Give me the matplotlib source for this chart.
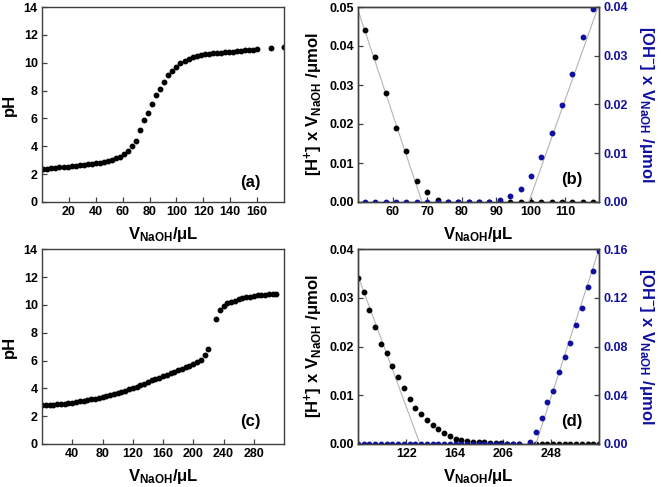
import matplotlib
matplotlib.use("Agg")
import matplotlib.pyplot as plt
from matplotlib.ticker import FormatStrFormatter

plt.rcParams["font.family"] = ["Liberation Sans", "DejaVu Sans"]
plt.rcParams["font.weight"] = "bold"
plt.rcParams["mathtext.fontset"] = "custom"
plt.rcParams["mathtext.rm"] = "Liberation Sans:bold"
plt.rcParams["mathtext.bf"] = "Liberation Sans:bold"
plt.rcParams["mathtext.it"] = "Liberation Sans:bold"

# ---- panel (a): pH vs volume, titration 1 ----
vol_a = [1, 4, 7, 10, 13, 16, 19, 22, 25, 28, 31, 34, 37, 40, 43, 46, 49, 52,
         55, 58, 61, 64, 67, 70, 73, 76, 79, 82, 85, 88, 91, 94, 97, 100, 103,
         106, 109, 112, 115, 118, 121, 124, 127, 130, 133, 136, 139, 142, 145,
         148, 151, 154, 157, 160, 170, 180]
ph_a = [2.39, 2.40, 2.45, 2.47, 2.50, 2.52, 2.54, 2.59, 2.61, 2.64, 2.66, 2.73,
        2.73, 2.78, 2.83, 2.90, 2.95, 3.02, 3.14, 3.26, 3.48, 3.67, 4.03, 4.41,
        5.18, 5.88, 6.40, 7.05, 7.67, 8.13, 8.61, 9.12, 9.43, 9.72, 9.96, 10.12,
        10.27, 10.39, 10.48, 10.55, 10.60, 10.65, 10.67, 10.70, 10.72, 10.74,
        10.77, 10.79, 10.84, 10.86, 10.89, 10.91, 10.93, 10.96, 11.08, 11.13]

# ---- panel (b): Gran functions, titration 1 ----
vol_b = [52, 55, 58, 61, 64, 67, 70, 73, 76, 79, 82, 85, 88, 91, 94, 97, 100,
         103, 106, 109, 112, 115, 118]
h_b = [0.0442, 0.0371, 0.0279, 0.0189, 0.0130, 0.0055, 0.0026, 0.0005, 0, 0,
       0, 0, 0, 0, 0, 0, 0, 0, 0, 0, 0, 0, 0]
oh_b = [0, 0, 0, 0, 0, 0, 0, 0, 0, 0, 0, 0, 0, 0.00034, 0.00123, 0.00274,
        0.0054, 0.0092, 0.0142, 0.0198, 0.0262, 0.0338, 0.0395]
fit_h_b_x = [50, 68.5]
fit_h_b_y = [0.0492, 0]
fit_oh_b_x = [99.4, 119.7]
fit_oh_b_y = [0, 0.0405]

# ---- panel (c): pH vs volume, titration 2 ----
vol_c = [0, 5, 10, 15, 20, 25, 30, 35, 40, 45, 50, 55, 60, 65, 70, 75, 80, 85,
         90, 95, 100, 105, 110, 115, 120, 125, 130, 135, 140, 145, 150, 155,
         160, 165, 170, 175, 180, 185, 190, 195, 200, 205, 210, 215, 220,
         230, 235, 240, 245, 250, 255, 260, 265, 270, 275, 280, 285, 290, 295,
         300, 305, 310]
ph_c = [2.78, 2.80, 2.82, 2.84, 2.86, 2.88, 2.91, 2.94, 2.98, 3.02, 3.06, 3.10,
        3.15, 3.20, 3.25, 3.30, 3.36, 3.43, 3.50, 3.58, 3.66, 3.74, 3.83, 3.93,
        4.03, 4.13, 4.24, 4.35, 4.46, 4.57, 4.68, 4.78, 4.88, 4.98, 5.08, 5.20,
        5.32, 5.42, 5.52, 5.62, 5.73, 5.87, 6.05, 6.38, 6.84,
        9.00, 9.62, 9.95, 10.12, 10.22, 10.31, 10.40, 10.47, 10.54, 10.60,
        10.65, 10.69, 10.72, 10.74, 10.77, 10.79, 10.80]

# ---- panel (d): Gran functions, titration 2 ----
vol_d = [80, 85, 90, 95, 100, 105, 110, 115, 120, 125, 130, 135, 140, 145, 150,
         155, 160, 165, 170, 175, 180, 185, 190, 195, 200, 205, 210, 215, 220,
         230, 235, 240, 245, 250, 255, 260, 265, 270, 275, 280, 285, 290]
h_d = [0.0342, 0.0313, 0.0275, 0.0241, 0.0206, 0.0186, 0.0160, 0.0137, 0.0115,
       0.0092, 0.0074, 0.0061, 0.0049, 0.0039, 0.0031, 0.0023, 0.0016, 0.0011,
       0.0009, 0.0007, 0.0005, 0.0005, 0.0004, 0.0003, 0.0003, 0.0002, 0.0001,
       0.0001, 0.0001, 0, 0, 0, 0, 0, 0, 0, 0, 0, 0, 0, 0, 0]
oh_d = [0] * 29 + [0.0016, 0.0099, 0.0214, 0.0345, 0.0438, 0.0592, 0.0718,
                   0.0833, 0.0975, 0.1115, 0.1293, 0.1425, 0.1586]
fit_h_d_x = [80, 134]
fit_h_d_y = [0.0345, 0]
fit_oh_d_x = [235, 290]
fit_oh_d_y = [0, 0.16]

BLUE = "#1010a0"
GRAY = "#b4b4b4"
SPINE = "#404040"
MS = 3.2
TICK_FS = 9
LAB_FS = 12

fig = plt.figure(figsize=(6.61, 4.87), dpi=100)
W, H = 661, 487


def add_axes(x0, y0, x1, y1):
    return fig.add_axes([x0 / W, 1 - y1 / H, (x1 - x0) / W, (y1 - y0) / H])


def style(ax):
    for s in ax.spines.values():
        s.set_color(SPINE)
        s.set_linewidth(1.0)
    ax.tick_params(direction="in", length=3.5, width=0.9, labelsize=TICK_FS,
                   color=SPINE, pad=3)
    for lab in ax.get_xticklabels() + ax.get_yticklabels():
        lab.set_fontweight("bold")


xlab = r"$\mathbf{V}_{\mathbf{NaOH}}\mathbf{/μL}$"
hlab = r"$\mathbf{[H^{+}]\ x\ V}_{\mathbf{NaOH}}\mathbf{\ /μmol}$"
ohlab = r"$\mathbf{[OH^{-}]\ x\ V}_{\mathbf{NaOH}}\mathbf{\ /μmol}$"

# (a)
ax = add_axes(42, 7, 284, 202)
ax.plot(vol_a, ph_a, "o", color="black", ms=MS)
ax.set_xlim(0, 180)
ax.set_ylim(0, 14)
ax.set_xticks(range(20, 161, 20))
ax.set_yticks(range(0, 15, 2))
ax.set_xlabel(xlab, fontsize=LAB_FS, labelpad=5)
ax.set_ylabel("pH", fontsize=LAB_FS, fontweight="bold", labelpad=5)
ax.text(0.86, 0.10, "(a)", transform=ax.transAxes, fontsize=LAB_FS,
        fontweight="bold", ha="center", va="center")
style(ax)

# (b)
ax = add_axes(358, 7, 599, 202)
ax2 = ax.twinx()
ax.plot(fit_h_b_x, fit_h_b_y, color=GRAY, lw=0.8)
ax.plot(vol_b, h_b, "o", color="black", ms=MS)
ax2.plot(fit_oh_b_x, fit_oh_b_y, color=GRAY, lw=0.8)
ax2.plot(vol_b, oh_b, "o", color=BLUE, ms=MS)
ax.set_xlim(50, 119.7)
ax.set_ylim(0, 0.05)
ax2.set_ylim(0, 0.04)
ax.set_xticks(range(60, 111, 10))
ax.set_yticks([0, 0.01, 0.02, 0.03, 0.04, 0.05])
ax2.set_yticks([0, 0.01, 0.02, 0.03, 0.04])
ax.yaxis.set_major_formatter(FormatStrFormatter("%.2f"))
ax2.yaxis.set_major_formatter(FormatStrFormatter("%.2f"))
ax.set_xlabel(xlab, fontsize=LAB_FS, labelpad=5)
ax.set_ylabel(hlab, fontsize=LAB_FS, labelpad=3)
ax2.set_ylabel(ohlab, fontsize=LAB_FS, color=BLUE, rotation=270, labelpad=20)
ax.text(0.888, 0.113, "(b)", transform=ax.transAxes, fontsize=LAB_FS,
        fontweight="bold", ha="center", va="center")
style(ax)
style(ax2)
ax2.tick_params(axis="y", labelcolor=BLUE)

# (c)
ax = add_axes(42, 249.3, 284, 444)
ax.plot(vol_c, ph_c, "o", color="black", ms=MS)
ax.set_xlim(0, 320)
ax.set_ylim(0, 14)
ax.set_xticks(range(40, 281, 40))
ax.set_yticks(range(0, 15, 2))
ax.set_xlabel(xlab, fontsize=LAB_FS, labelpad=5)
ax.set_ylabel("pH", fontsize=LAB_FS, fontweight="bold", labelpad=5)
ax.text(0.86, 0.115, "(c)", transform=ax.transAxes, fontsize=LAB_FS,
        fontweight="bold", ha="center", va="center")
style(ax)

# (d)
ax = add_axes(358, 249.3, 599, 444)
ax2 = ax.twinx()
ax.plot(fit_h_d_x, fit_h_d_y, color=GRAY, lw=0.8)
ax.plot(vol_d, h_d, "o", color="black", ms=MS)
ax2.plot(fit_oh_d_x, fit_oh_d_y, color=GRAY, lw=0.8)
ax2.plot(vol_d, oh_d, "o", color=BLUE, ms=MS)
ax.set_xlim(80, 290)
ax.set_ylim(0, 0.04)
ax2.set_ylim(0, 0.16)
ax.set_xticks([122, 164, 206, 248])
ax.set_yticks([0, 0.01, 0.02, 0.03, 0.04])
ax2.set_yticks([0, 0.04, 0.08, 0.12, 0.16])
ax.yaxis.set_major_formatter(FormatStrFormatter("%.2f"))
ax2.yaxis.set_major_formatter(FormatStrFormatter("%.2f"))
ax.set_xlabel(xlab, fontsize=LAB_FS, labelpad=5)
ax.set_ylabel(hlab, fontsize=LAB_FS, labelpad=3)
ax2.set_ylabel(ohlab, fontsize=LAB_FS, color=BLUE, rotation=270, labelpad=20)
ax.text(0.887, 0.115, "(d)", transform=ax.transAxes, fontsize=LAB_FS,
        fontweight="bold", ha="center", va="center")
style(ax)
style(ax2)
ax2.tick_params(axis="y", labelcolor=BLUE)

fig.savefig("out.png", dpi=100)
